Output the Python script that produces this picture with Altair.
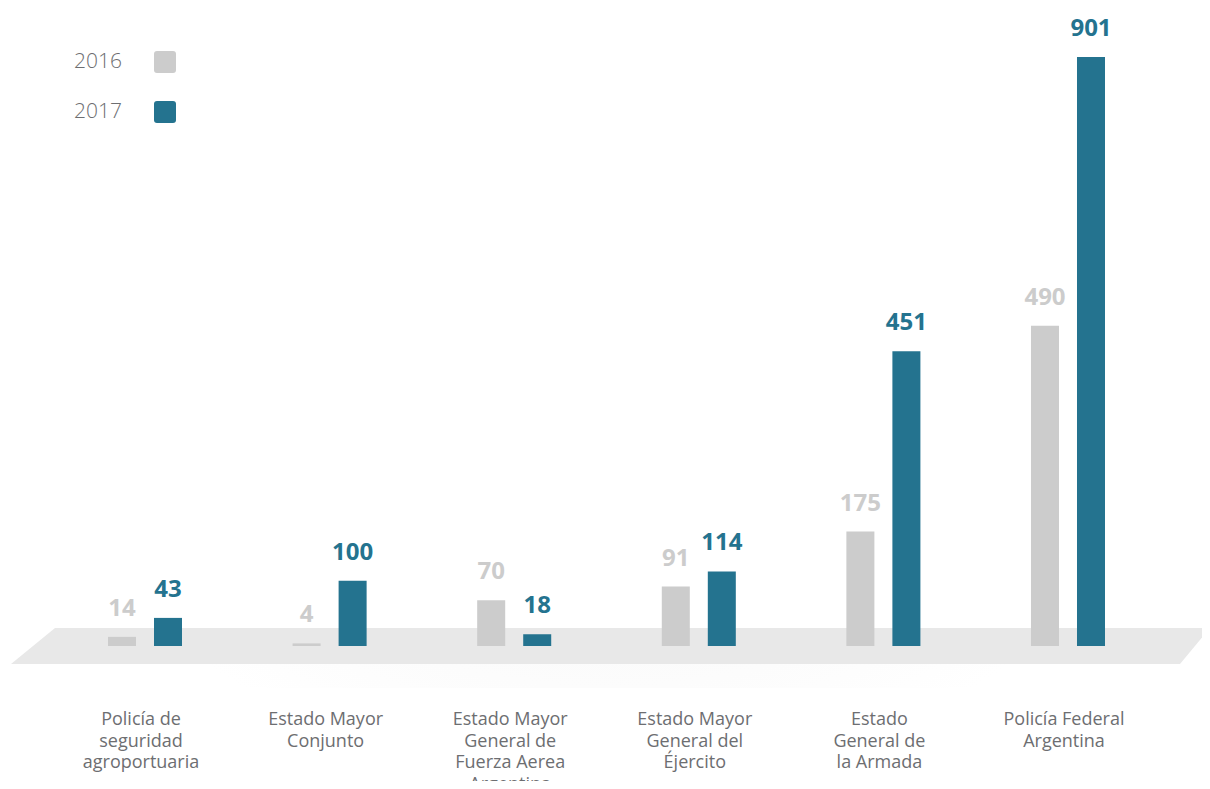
import altair as alt
import pandas as pd

categories = [
    "Policía de\nseguridad\nagroportuaria",
    "Estado Mayor\nConjunto",
    "Estado Mayor\nGeneral de\nFuerza Aerea\nArgentina",
    "Estado Mayor\nGeneral del\nÉjercito",
    "Estado\nGeneral de\nla Armada",
    "Policía Federal\nArgentina",
]
years = ["2016", "2017"]
values_2016 = [14, 4, 70, 91, 175, 490]
values_2017 = [43, 100, 18, 114, 451, 901]
colors = ["#cccccc", "#24738f"]

rows = []
for c, a, b in zip(categories, values_2016, values_2017):
    rows.append({"cat": c, "year": "2016", "value": a})
    rows.append({"cat": c, "year": "2017", "value": b})
df = pd.DataFrame(rows)
cat_df = pd.DataFrame({"cat": categories})
legend_df = pd.DataFrame({"year": years})

W, H = 1194, 773
FONT = "Open Sans"

xscale = alt.Scale(type="band", domain=categories, range=[7.7, 1189.3], paddingInner=0.599, paddingOuter=0.5)
xoff = alt.Scale(domain=years, paddingInner=0.3913, paddingOuter=0)
yscale = alt.Scale(domain=[-206.5, 976], nice=False, zero=False)
cscale = alt.Scale(domain=years, range=colors)

# floor (decorative parallelogram)
floor_df = pd.DataFrame({
    "px": [3, 47, 1172, 1202],
    "top": [656, 620, 620, 620],
    "bot": [656, 656, 656, 620],
})
pix_x = alt.Scale(domain=[0, W], range=[0, W], nice=False, zero=False)
pix_y = alt.Scale(domain=[0, H], range=[0, H], nice=False, zero=False)
floor = alt.Chart(floor_df).mark_area(color="#e8e8e8", interpolate="linear").encode(
    x=alt.X("px:Q", scale=pix_x, axis=None),
    y=alt.Y("top:Q", scale=pix_y, axis=None),
    y2="bot:Q",
)

shadow = alt.Chart(cat_df.head(1)).mark_rect(
    fill=alt.Gradient(
        gradient="radial", x1=0.5, y1=0, r1=0, x2=0.5, y2=0, r2=0.6,
        stops=[alt.GradientStop(offset=0, color="#ebebeb"),
               alt.GradientStop(offset=1, color="#ffffff")],
    ),
).encode(x=alt.value(20), x2=alt.value(1180), y=alt.value(656), y2=alt.value(680))

bars = alt.Chart(df).mark_bar().encode(
    x=alt.X("cat:N", scale=xscale, axis=None, sort=categories),
    xOffset=alt.XOffset("year:N", scale=xoff, sort=years),
    y=alt.Y("value:Q", scale=yscale, axis=None),
    color=alt.Color("year:N", scale=cscale, legend=None),
)

labels = alt.Chart(df).mark_text(
    font=FONT, fontSize=24, fontWeight="bold", baseline="alphabetic", dy=-21
).encode(
    x=alt.X("cat:N", scale=xscale, axis=None, sort=categories),
    xOffset=alt.XOffset("year:N", scale=xoff, sort=years),
    y=alt.Y("value:Q", scale=yscale, axis=None),
    text="value:Q",
    color=alt.Color("year:N", scale=cscale, legend=None),
)

cat_labels = alt.Chart(cat_df).mark_text(
    font=FONT, fontSize=18, color="#6d6e71", baseline="alphabetic",
    lineBreak="\n", lineHeight=21.5, align="center", dx=-4,
).encode(
    x=alt.X("cat:N", scale=xscale, axis=None, sort=categories),
    y=alt.value(717),
    text="cat:N",
)

leg_y = alt.Scale(domain=years, range=[54, 104], padding=0)
leg_text = alt.Chart(legend_df).mark_text(
    font=FONT, fontSize=21, fontWeight=300, color="#6d6e71", align="right", baseline="middle"
).encode(
    x=alt.value(114),
    y=alt.Y("year:O", scale=leg_y, axis=None),
    text="year:N",
)
rsq = "M-1,-0.73 Q-1,-1 -0.73,-1 L0.73,-1 Q1,-1 1,-0.73 L1,0.73 Q1,1 0.73,1 L-0.73,1 Q-1,1 -1,0.73 Z"
leg_sym = alt.Chart(legend_df).mark_point(shape=rsq, filled=True, opacity=1, size=484).encode(
    x=alt.value(157),
    y=alt.Y("year:O", scale=leg_y, axis=None),
    color=alt.Color("year:N", scale=cscale, legend=None),
)

chart = alt.layer(
    shadow, floor, bars, labels, cat_labels, leg_text, leg_sym
).resolve_scale(
    x="independent", y="independent", color="shared"
).properties(
    width=W, height=H, padding=0, background="white",
    autosize=alt.AutoSizeParams(type="none"),
).configure_view(stroke=None)

chart.save("out.html", embed_options={"renderer": "svg", "actions": False})
